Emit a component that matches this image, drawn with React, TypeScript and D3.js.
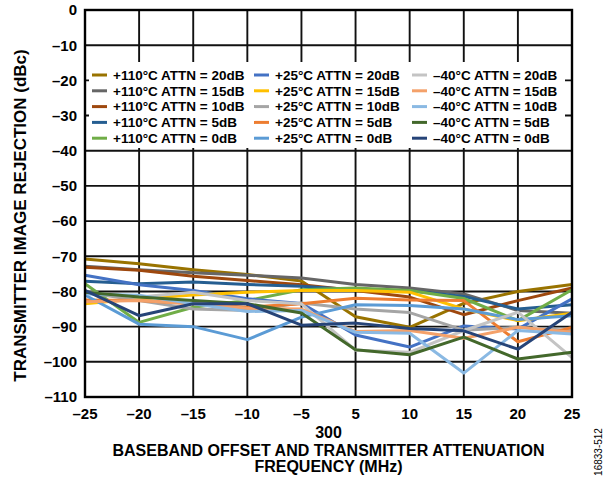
import React from 'react';
import * as d3 from 'd3';

const categories = ['–25', '–20', '–15', '–10', '–5', '5', '10', '15', '20', '25'];
const yTickValues = [0, -10, -20, -30, -40, -50, -60, -70, -80, -90, -100, -110];

const seriesNames = [
  '+110°C ATTN = 20dB', '+110°C ATTN = 15dB', '+110°C ATTN = 10dB', '+110°C ATTN = 5dB', '+110°C ATTN = 0dB',
  '+25°C ATTN = 20dB', '+25°C ATTN = 15dB', '+25°C ATTN = 10dB', '+25°C ATTN = 5dB', '+25°C ATTN = 0dB',
  '–40°C ATTN = 20dB', '–40°C ATTN = 15dB', '–40°C ATTN = 10dB', '–40°C ATTN = 5dB', '–40°C ATTN = 0dB',
];
const seriesColors = [
  '#997300', '#666666', '#9e480e', '#255e91', '#70ad47',
  '#4472c4', '#ffc000', '#a5a5a5', '#ed7d31', '#5b9bd5',
  '#c4c4c4', '#f4a16a', '#8ab9e3', '#43682b', '#264478',
];

const hot20 = [-70.8, -72.1, -73.8, -75.2, -77.0, -87.2, -90.2, -83.4, -80.0, -78.0];
const hot15 = [-72.8, -73.8, -74.7, -75.4, -76.2, -78.0, -79.0, -80.7, -85.4, -86.2];
const hot10 = [-73.1, -74.0, -75.7, -76.9, -78.1, -79.7, -81.6, -86.6, -82.6, -79.0];
const hot5 = [-77.1, -77.8, -77.3, -78.0, -78.5, -79.5, -79.8, -81.4, -85.0, -83.8];
const hot0 = [-77.8, -88.8, -84.5, -82.6, -79.5, -79.0, -79.7, -82.0, -88.3, -79.5];
const room20 = [-75.4, -78.1, -79.7, -82.1, -83.4, -92.4, -95.8, -89.8, -90.7, -82.1];
const room15 = [-83.5, -82.1, -81.0, -80.2, -79.7, -79.7, -80.2, -85.0, -88.3, -86.2];
const room10 = [-80.2, -82.6, -85.0, -85.4, -83.3, -85.0, -86.0, -91.0, -90.2, -91.1];
const room5 = [-82.4, -82.6, -83.5, -84.5, -83.5, -81.9, -82.4, -82.6, -94.3, -90.2];
const room0 = [-81.0, -89.3, -90.0, -93.7, -87.3, -83.8, -84.0, -85.0, -88.0, -86.9];
const cold20 = [-80.2, -81.6, -80.2, -82.6, -83.5, -96.7, -97.3, -91.1, -85.9, -98.8];
const cold15 = [-82.9, -82.6, -83.5, -84.8, -85.0, -91.4, -91.1, -93.3, -90.2, -91.6];
const cold10 = [-80.7, -81.1, -83.5, -85.7, -85.4, -91.6, -91.9, -103.2, -91.1, -92.1];
const cold5 = [-80.2, -81.6, -82.6, -83.5, -86.1, -96.6, -98.0, -93.0, -99.2, -97.3];
const cold0 = [-79.7, -86.9, -83.5, -83.5, -89.6, -89.0, -90.5, -91.2, -96.4, -85.9];

const seriesValues = [hot20, hot15, hot10, hot5, hot0, room20, room15, room10, room5, room0, cold20, cold15, cold10, cold5, cold0];

const W = 614;
const H = 478;
const left = 85;
const right = 572;
const top = 10;
const bottom = 397;
const FONT = '"Liberation Sans", Arial, Helvetica, sans-serif';

export default function App() {
  const x = d3.scalePoint<string>().domain(categories).range([left, right]);
  const y = d3.scaleLinear().domain([-110, 0]).range([bottom, top]);
  const line = d3
    .line<number>()
    .x((_, i) => x(categories[i]) as number)
    .y((d) => y(d));

  const fmt = (v: number) => (v < 0 ? '–' + Math.abs(v) : String(v));

  const legendCols = [92, 254, 412];
  const legendRows = [75, 90.8, 106.6, 122.4, 138.2];

  return (
    <svg
      width={W}
      height={H}
      style={{ position: 'absolute', left: 0, top: 0, background: '#fff' }}
      fontFamily={FONT}
    >
      <rect x={0} y={0} width={W} height={H} fill="#fff" />
      {yTickValues.map((v) => (
        <line key={'h' + v} x1={left} x2={right} y1={y(v)} y2={y(v)} stroke="#111" strokeWidth={1.9} />
      ))}
      {categories.map((c) => (
        <line key={'v' + c} x1={x(c)} x2={x(c)} y1={top} y2={bottom} stroke="#111" strokeWidth={1.9} />
      ))}
      <rect x={89} y={62} width={476} height={86} fill="#fff" />
      {seriesValues.map((vals, i) => (
        <path
          key={'s' + i}
          d={line(vals) || ''}
          fill="none"
          stroke={seriesColors[i]}
          strokeWidth={3}
          strokeLinejoin="round"
        />
      ))}
      <rect x={left} y={top} width={right - left} height={bottom - top} fill="none" stroke="#000" strokeWidth={2.4} />
      {seriesNames.map((name, i) => {
        const col = Math.floor(i / 5);
        const row = i % 5;
        const lx = legendCols[col];
        const ly = legendRows[row];
        return (
          <g key={'l' + i}>
            <line x1={lx} x2={lx + 15} y1={ly} y2={ly} stroke={seriesColors[i]} strokeWidth={3} />
            <text x={lx + 21} y={ly} dy="0.36em" fontSize={13.5} fontWeight="bold" fill="#000">
              {name}
            </text>
          </g>
        );
      })}
      {yTickValues.map((v) => (
        <text key={'yt' + v} x={77} y={y(v)} dy="0.36em" textAnchor="end" fontSize={15} fontWeight="bold" fill="#000">
          {fmt(v)}
        </text>
      ))}
      {categories.map((c) => (
        <text key={'xt' + c} x={x(c)} y={414} dy="0.36em" textAnchor="middle" fontSize={15} fontWeight="bold" fill="#000">
          {c}
        </text>
      ))}
      <text x={(left + right) / 2} y={432} dy="0.36em" textAnchor="middle" fontSize={16} fontWeight="bold" fill="#000">
        300
      </text>
      <text x={(left + right) / 2} y={450} dy="0.36em" textAnchor="middle" fontSize={16} fontWeight="bold" fill="#000">
        BASEBAND OFFSET AND TRANSMITTER ATTENUATION
      </text>
      <text x={(left + right) / 2} y={466} dy="0.36em" textAnchor="middle" fontSize={16} fontWeight="bold" fill="#000">
        FREQUENCY (MHz)
      </text>
      <text
        transform={`translate(20, ${(top + bottom) / 2 + 12}) rotate(-90)`}
        textAnchor="middle"
        dy="0.36em"
        fontSize={17}
        fontWeight="bold"
        fill="#000"
      >
        TRANSMITTER IMAGE REJECTION (dBc)
      </text>
      <text
        transform="translate(598, 452) rotate(-90)"
        textAnchor="middle"
        dy="0.36em"
        fontSize={10}
        fill="#000"
      >
        16833-512
      </text>
    </svg>
  );
}
